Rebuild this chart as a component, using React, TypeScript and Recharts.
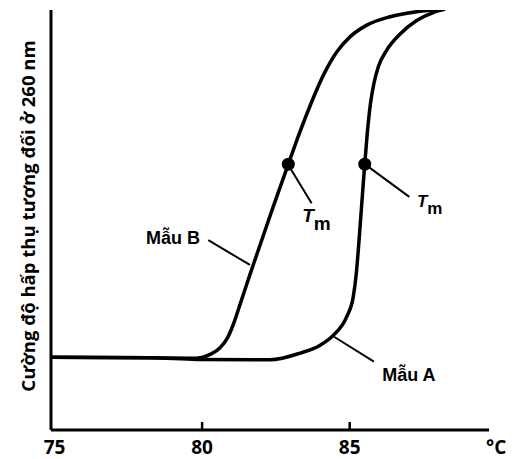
import { LineChart, Line, XAxis, YAxis, ReferenceDot, ReferenceLine } from "recharts";

// nhiệt độ (°C) và cường độ hấp thụ tương đối (%)
const mauBTemp = [74.88, 78.23, 79.82, 80.27, 80.61, 80.85, 81.05, 81.3, 81.62, 82.02, 82.41, 82.81, 82.92, 83.21, 83.55, 84.11, 84.56, 85.01, 85.58, 86.37, 87.27, 88.23];
const mauBValue = [17.3, 17.2, 17.1, 18.0, 19.6, 21.8, 25.0, 30.2, 37.0, 45.2, 53.2, 61.1, 63.3, 69.0, 75.3, 84.5, 90.0, 93.6, 96.4, 98.4, 99.6, 100.2];

const mauATemp = [74.88, 78.23, 79.82, 82.3, 83.32, 84.0, 84.45, 84.9, 85.12, 85.22, 85.31, 85.4, 85.51, 85.6, 85.7, 85.82, 85.97, 86.26, 86.71, 87.27, 87.83, 88.23];
const mauAValue = [17.3, 17.2, 16.8, 16.7, 18.3, 20.2, 22.6, 27.0, 31.7, 37.0, 44.5, 53.0, 63.3, 71.0, 77.5, 82.5, 86.5, 90.5, 94.3, 97.5, 99.4, 100.2];

const tmTemp = [82.92, 85.51];
const tmValue = [63.3, 63.3];

const xTicks = [75, 80, 85];

const mauB = mauBTemp.map((t, i) => ({ t, v: mauBValue[i] }));
const mauA = mauATemp.map((t, i) => ({ t, v: mauAValue[i] }));

const FONT = "'Liberation Sans', Arial, sans-serif";
const TICK_FONT = "'Open Sans', sans-serif";

const XTick = ({ x, y, payload }: any) => (
  <g>
    {payload.value !== 75 && <line x1={x} x2={x} y1={y - 8} y2={y + 1} stroke="#000" strokeWidth={2.5} />}
    <text x={x} y={y + 24} textAnchor="middle" fontFamily={TICK_FONT} fontWeight={700} fontSize={19} fill="#000">
      {payload.value}
    </text>
  </g>
);

const textShape =
  (txt: string, anchor: "start" | "end", size = 18) =>
  (p: any) =>
    (
      <text x={p.cx} y={p.cy} textAnchor={anchor} fontFamily={FONT} fontWeight={700} fontSize={size} fill="#000">
        {txt}
      </text>
    );

const tmShape = (size: number, drop: number) => (p: any) => (
  <text x={p.cx} y={p.cy} fontFamily={FONT} fontSize={size} fill="#000">
    <tspan fontStyle="italic" fontWeight={700}>T</tspan>
    <tspan dy={drop} fontWeight={700}>m</tspan>
  </text>
);

const unitShape = (p: any) => (
  <text x={p.cx} y={p.cy} fontFamily={TICK_FONT} fontWeight={700} fontSize={19} fill="#000">
    °C
  </text>
);

const YTitle = () => (
  <text
    x={35}
    y={216}
    transform="rotate(-90 35 216)"
    textAnchor="middle"
    fontFamily={TICK_FONT}
    fontWeight={700}
    fontSize={18.5}
    fill="#000"
  >
    Cường độ hấp thụ tương đối ở 260 nm
  </text>
);

export default function App() {
  return (
    <div style={{ position: "absolute", left: 0, top: 0, background: "#fff" }}>
      <LineChart width={519} height={459} margin={{ top: 10, right: 30, bottom: 28, left: 50 }}>
        <XAxis
          type="number"
          dataKey="t"
          domain={[74.88, 89.72]}
          ticks={xTicks}
          allowDataOverflow
          height={1}
          tickSize={0}
          tickMargin={0}
          tickLine={false}
          tick={<XTick />}
          axisLine={{ stroke: "#000", strokeWidth: 3 }}
        />
        <YAxis
          type="number"
          domain={[0, 100]}
          width={1}
          tick={false}
          tickLine={false}
          allowDataOverflow
          axisLine={{ stroke: "#000", strokeWidth: 3 }}
          label={{ content: () => <YTitle /> }}
        />
        <Line data={mauB} dataKey="v" type="monotone" stroke="#000" strokeWidth={3.5} dot={false} isAnimationActive={false} />
        <Line data={mauA} dataKey="v" type="monotone" stroke="#000" strokeWidth={3.5} dot={false} isAnimationActive={false} />

        <ReferenceLine segment={[{ x: 82.92, y: 63.1 }, { x: 83.71, y: 54.0 }]} stroke="#000" strokeWidth={2} />
        <ReferenceLine segment={[{ x: 85.51, y: 63.3 }, { x: 87.02, y: 55.5 }]} stroke="#000" strokeWidth={2} />
        <ReferenceLine segment={[{ x: 80.21, y: 45.2 }, { x: 81.62, y: 39.3 }]} stroke="#000" strokeWidth={2} />
        <ReferenceLine segment={[{ x: 84.47, y: 22.2 }, { x: 85.82, y: 16.3 }]} stroke="#000" strokeWidth={2} />

        {tmTemp.map((t, i) => (
          <ReferenceDot key={i} x={t} y={tmValue[i]} r={6.5} fill="#000" stroke="none" />
        ))}

        <ReferenceDot x={83.39} y={49.5} shape={tmShape(19, 8)} />
        <ReferenceDot x={87.28} y={53.1} shape={tmShape(17, 7)} />
        <ReferenceDot x={79.93} y={44.3} shape={textShape("Mẫu B", "end")} />
        <ReferenceDot x={86.1} y={11.7} shape={textShape("Mẫu A", "start")} />
        <ReferenceDot x={89.62} y={-5.6} ifOverflow="visible" shape={unitShape} />
      </LineChart>
    </div>
  );
}
